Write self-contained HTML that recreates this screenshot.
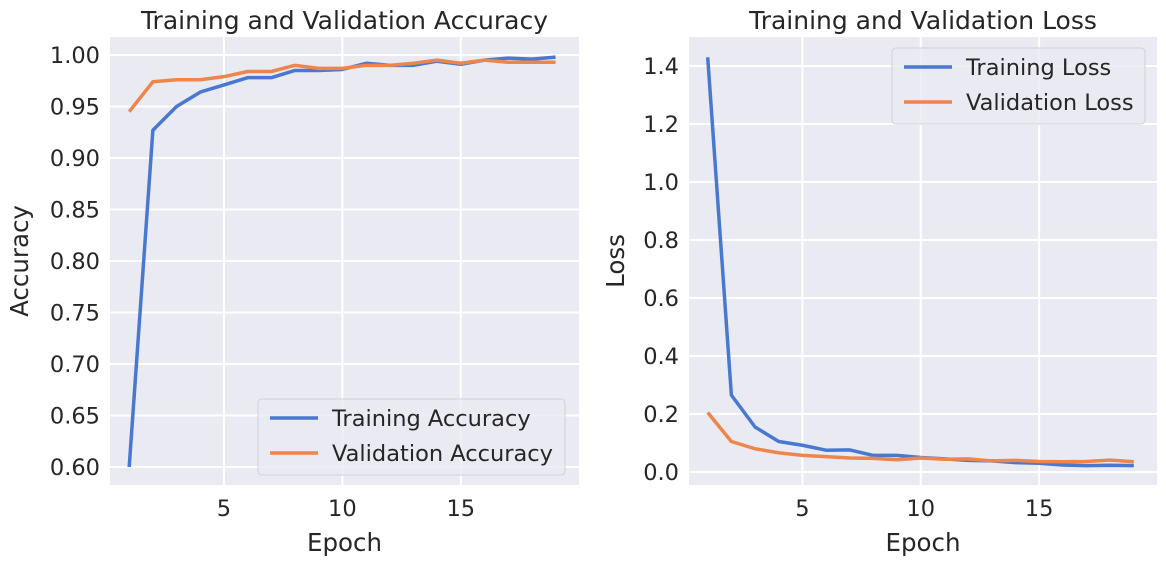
<!DOCTYPE html>
<html><head><meta charset="utf-8"><style>
body{margin:0;background:#fff;}
svg text{font-family:"DejaVu Sans","Liberation Sans",sans-serif;fill:#262626;}
</style></head><body>
<svg id="c" width="1166" height="566" xmlns="http://www.w3.org/2000/svg"></svg>
<script>
const epochs=[1,2,3,4,5,6,7,8,9,10,11,12,13,14,15,16,17,18,19];
const trainAcc=[0.60,0.927,0.950,0.964,0.971,0.978,0.978,0.985,0.985,0.986,0.992,0.990,0.990,0.994,0.991,0.995,0.997,0.996,0.998];
const valAcc=[0.945,0.974,0.976,0.976,0.979,0.984,0.984,0.990,0.987,0.987,0.990,0.990,0.992,0.995,0.992,0.995,0.993,0.993,0.993];
const trainLoss=[1.43,0.265,0.155,0.105,0.092,0.075,0.076,0.057,0.057,0.05,0.045,0.04,0.038,0.032,0.03,0.024,0.022,0.023,0.022];
const valLoss=[0.205,0.105,0.08,0.066,0.057,0.053,0.048,0.047,0.042,0.048,0.044,0.045,0.038,0.04,0.036,0.035,0.036,0.041,0.035];
const xTicks=[5,10,15];
const accTicks=[0.60,0.65,0.70,0.75,0.80,0.85,0.90,0.95,1.00];
const lossTicks=[0.0,0.2,0.4,0.6,0.8,1.0,1.2,1.4];
const NS="http://www.w3.org/2000/svg";
const svg=document.getElementById('c');
function mk(tag,at,parent){const e=document.createElementNS(NS,tag);for(const k in at)e.setAttribute(k,at[k]);(parent||svg).appendChild(e);return e;}
function panel(o){
  const g=mk('g',{});
  
  
  const sx=v=>o.x0+(v-o.xmin)/(o.xmax-o.xmin)*(o.x1-o.x0);
  const sy=v=>o.y1-(v-o.ymin)/(o.ymax-o.ymin)*(o.y1-o.y0);
  const bg=mk('rect',{x:o.x0,y:o.y0,width:o.x1-o.x0,height:o.y1-o.y0,fill:'#eaeaf2'},g);
  
  
  xTicks.forEach(t=>{
    mk('line',{x1:sx(t),x2:sx(t),y1:o.y0,y2:o.y1,stroke:'#fff','stroke-width':2},g);
    const tx=mk('text',{x:sx(t),y:o.y1+31,'font-size':22.5,'text-anchor':'middle'},g);tx.textContent=t;
    
    
  });
  o.yTicks.forEach(t=>{
    mk('line',{x1:o.x0,x2:o.x1,y1:sy(t),y2:sy(t),stroke:'#fff','stroke-width':2},g);
    const tx=mk('text',{x:o.x0-10,y:sy(t)+8,'font-size':22.5,'text-anchor':'end'},g);tx.textContent=t.toFixed(o.dec);
    
    
  });
  o.series.forEach(s=>{
    const p=mk('polyline',{points:epochs.map((e,i)=>sx(e)+','+sy(s.v[i])).join(' '),fill:'none',stroke:s.c,'stroke-width':3.5,'stroke-linejoin':'round'},g);
    
    
  });
  const t=mk('text',{x:(o.x0+o.x1)/2,y:29,'font-size':25,'text-anchor':'middle'},g);t.textContent=o.title;
  
  
  const xl=mk('text',{x:(o.x0+o.x1)/2,y:551,'font-size':24.5,'text-anchor':'middle'},g);xl.textContent='Epoch';
  
  
  const yl=mk('text',{x:0,y:0,'font-size':24.5,'text-anchor':'middle',transform:`translate(${o.ylx},${(o.y0+o.y1)/2}) rotate(-90)`},g);yl.textContent=o.ylabel;
  
  
  const L=o.leg;
  const lg=mk('g',{},g);
  
  
  mk('rect',{x:L.x,y:L.y,width:L.w,height:76,rx:4,fill:'#eaeaf2','fill-opacity':0.8,stroke:'#d0d0d8'},lg);
  o.series.forEach((s,i)=>{
    const yy=L.y+19+i*35;
    mk('line',{x1:L.x+12,x2:L.x+60,y1:yy,y2:yy,stroke:s.c,'stroke-width':3.5},lg);
    const tt=mk('text',{x:L.x+74,y:yy+8,'font-size':22.5},lg);tt.textContent=s.label;
    
    
  });
}
panel({name:'accuracy-chart',x0:110,x1:579,y0:37,y1:485,xmin:0.19,xmax:19.99,ymin:0.5825,ymax:1.0175,yTicks:accTicks,dec:2,
  title:'Training and Validation Accuracy',ylabel:'Accuracy',ylx:28,leg:{x:258,y:399,w:307},
  series:[{n:'training-accuracy-line',v:trainAcc,c:'#4878d0',label:'Training Accuracy'},{n:'validation-accuracy-line',v:valAcc,c:'#ee854a',label:'Validation Accuracy'}]});
panel({name:'loss-chart',x0:689,x1:1157,y0:37,y1:485,xmin:0.21,xmax:19.98,ymin:-0.045,ymax:1.5,yTicks:lossTicks,dec:1,
  title:'Training and Validation Loss',ylabel:'Loss',ylx:624,leg:{x:892,y:48,w:253},
  series:[{n:'training-loss-line',v:trainLoss,c:'#4878d0',label:'Training Loss'},{n:'validation-loss-line',v:valLoss,c:'#ee854a',label:'Validation Loss'}]});
</script>
</body></html>
